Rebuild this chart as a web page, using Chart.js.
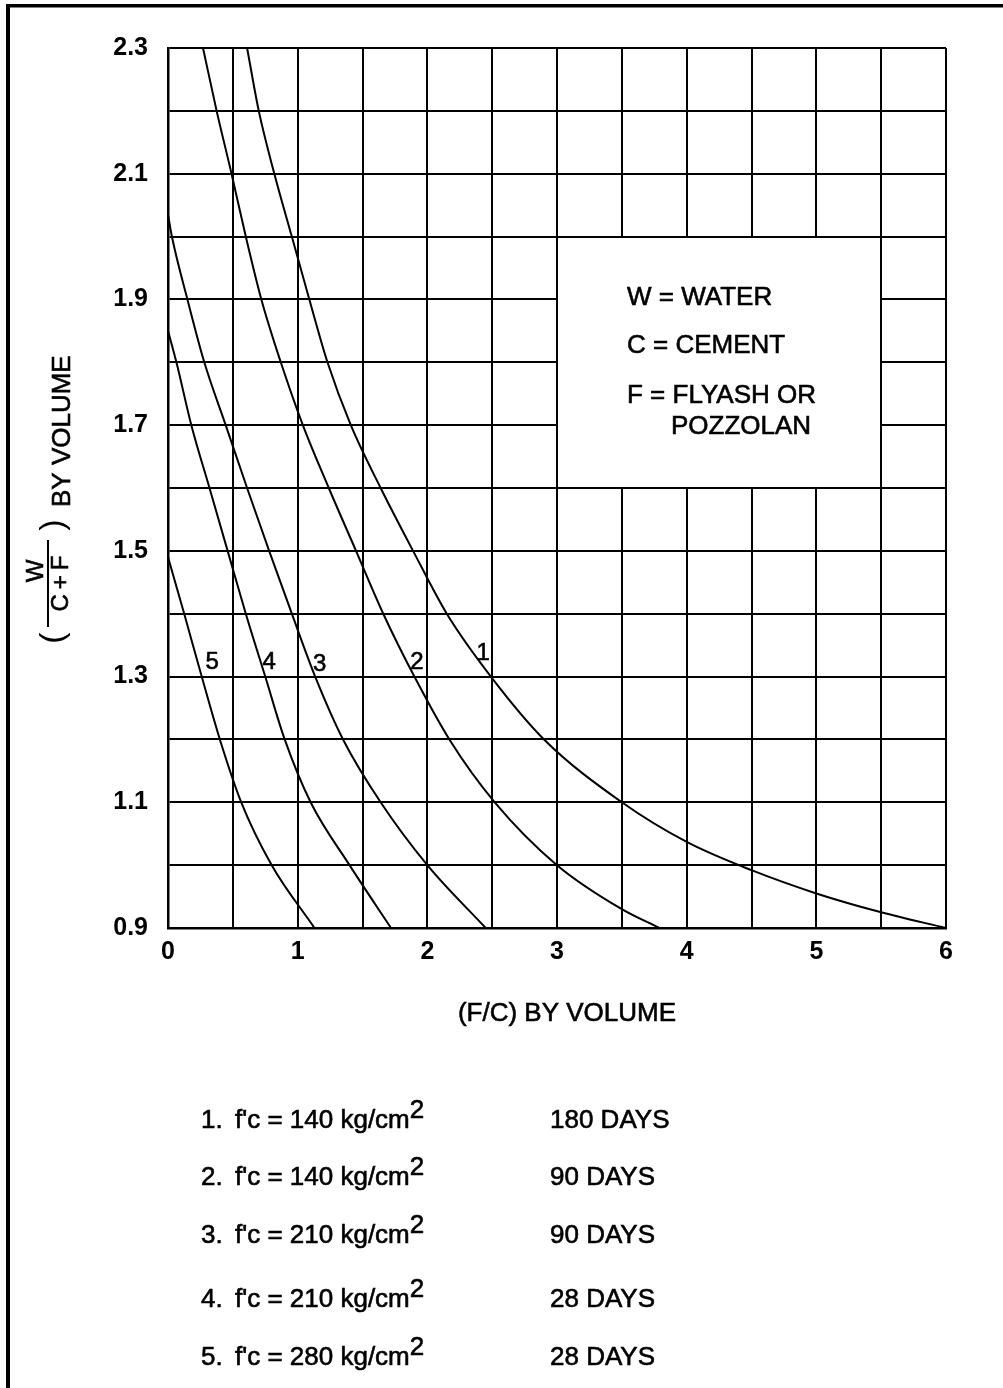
<!DOCTYPE html>
<html>
<head>
<meta charset="utf-8">
<script src="https://cdn.jsdelivr.net/npm/chart.js@4.4.0/dist/chart.umd.min.js"></script>
<style>
  html, body { margin: 0; padding: 0; background: #fff; }
  canvas { display: block; }
</style>
</head>
<body>
<canvas id="myChart" width="1003" height="1388"></canvas>
<script>
const xTickLabels = [0, 1, 2, 3, 4, 5, 6];
const yTickLabels = [0.9, 1.1, 1.3, 1.5, 1.7, 1.9, 2.1, 2.3];

// F/C (x) and W/(C+F) (y)
const curve1X = [0.61, 0.70, 0.82, 0.955, 1.09, 1.23, 1.41, 1.64, 1.89, 2.15, 2.49, 2.90, 3.5, 4.0, 4.5, 5.0, 5.5, 6.0];
const curve1Y = [2.3, 2.2, 2.1, 2.0, 1.9, 1.8, 1.7, 1.6, 1.5, 1.4, 1.3, 1.2, 1.100, 1.037, 0.992, 0.955, 0.925, 0.9];
const curve2X = [0.27, 0.375, 0.49, 0.60, 0.72, 0.87, 1.04, 1.24, 1.45, 1.66, 1.9, 2.17, 2.52, 3.0, 3.5, 3.79];
const curve2Y = [2.3, 2.2, 2.1, 2.0, 1.9, 1.8, 1.7, 1.6, 1.5, 1.4, 1.3, 1.2, 1.1, 1.0, 0.93, 0.9];
const curve3X = [0, 0.03, 0.15, 0.28, 0.445, 0.61, 0.78, 0.955, 1.135, 1.35, 1.64, 2.0, 2.45];
const curve3Y = [2.035, 2.0, 1.9, 1.8, 1.7, 1.6, 1.5, 1.4, 1.3, 1.2, 1.1, 1.0, 0.9];
const curve4X = [0, 0.065, 0.18, 0.32, 0.46, 0.60, 0.75, 0.90, 1.10, 1.40, 1.72];
const curve4Y = [1.85, 1.8, 1.7, 1.6, 1.5, 1.4, 1.3, 1.2, 1.1, 1.0, 0.9];
const curve5X = [0, 0.125, 0.26, 0.40, 0.565, 0.80, 1.13];
const curve5Y = [1.49, 1.4, 1.3, 1.2, 1.1, 1.0, 0.9];

const curveNames = ["1", "2", "3", "4", "5"];
const nameAtX = [2.43, 1.92, 1.17, 0.78, 0.34];
const nameAtY = [1.337, 1.322, 1.32, 1.322, 1.322];

const legendNums = ["1.", "2.", "3.", "4.", "5."];
const strengths = [140, 140, 210, 210, 280];
const ages = ["180 DAYS", "90 DAYS", "90 DAYS", "28 DAYS", "28 DAYS"];
const keyLines = ["W = WATER", "C = CEMENT", "F = FLYASH OR", "POZZOLAN"];

const FONT = "'Liberation Sans', Arial, Helvetica, sans-serif";

function toPoints(xs, ys) {
  return xs.map((v, i) => ({ x: v, y: ys[i] }));
}

function curve(xs, ys) {
  return {
    data: toPoints(xs, ys),
    showLine: true,
    borderColor: "#000",
    borderWidth: 2,
    pointRadius: 0,
    cubicInterpolationMode: "monotone",
    fill: false,
  };
}

// filled text with a hairline stroke so it reads as heavy as the scan
function heavyText(ctx, s, px, py) {
  ctx.fillText(s, px, py);
  ctx.strokeText(s, px, py);
}

function rotated(ctx, sx, sy, fn) {
  ctx.save();
  ctx.translate(sx, sy);
  ctx.rotate(-Math.PI / 2);
  fn();
  ctx.restore();
}

const decor = {
  id: "decor",
  beforeDraw(chart) {
    const c = chart.ctx;
    c.save();
    c.fillStyle = "#fff";
    c.fillRect(0, 0, chart.width, chart.height);
    c.restore();
  },
  beforeDatasetsDraw(chart) {
    // white key box punched out of the grid
    const { ctx, scales: { x, y } } = chart;
    const l = Math.round(x.getPixelForValue(3)) + 1;
    const r = Math.round(x.getPixelForValue(5.5)) - 1;
    const t = Math.round(y.getPixelForValue(2.0)) + 1;
    const b = Math.round(y.getPixelForValue(1.6)) - 1;
    ctx.save();
    ctx.fillStyle = "#fff";
    ctx.fillRect(l, t, r - l, b - t);
    ctx.restore();
  },
  afterDraw(chart) {
    const { ctx, scales: { x, y } } = chart;
    ctx.save();
    ctx.fillStyle = "#000";
    ctx.strokeStyle = "#000";

    // frame
    ctx.fillRect(6, 4, 4, chart.height - 4);
    ctx.fillRect(6, 4, chart.width - 6, 3.5);

    ctx.lineWidth = 0.6;

    // key text
    ctx.font = "26px " + FONT;
    ctx.textAlign = "left";
    ctx.textBaseline = "alphabetic";
    heavyText(ctx, keyLines[0], 627, 305);
    heavyText(ctx, keyLines[1], 627, 353);
    heavyText(ctx, keyLines[2], 627, 403);
    heavyText(ctx, keyLines[3], 671, 434);

    // curve numbers
    ctx.font = "24px " + FONT;
    ctx.textAlign = "center";
    ctx.textBaseline = "middle";
    curveNames.forEach((n, i) => {
      heavyText(ctx, n, x.getPixelForValue(nameAtX[i]), y.getPixelForValue(nameAtY[i]));
    });

    // x axis title
    ctx.font = "26px " + FONT;
    ctx.textAlign = "center";
    ctx.textBaseline = "alphabetic";
    heavyText(ctx, "(F/C) BY VOLUME", 567, 1021);

    // y axis title: ( W / C+F ) BY VOLUME
    rotated(ctx, 70, 507, () => {
      ctx.font = "26px " + FONT;
      ctx.textAlign = "left";
      heavyText(ctx, "BY VOLUME", 0, 0);
    });
    rotated(ctx, 63, 525, () => {
      ctx.font = "34px " + FONT;
      ctx.textAlign = "center";
      ctx.fillText(")", 0, 0);
    });
    rotated(ctx, 63, 638, () => {
      ctx.font = "34px " + FONT;
      ctx.textAlign = "center";
      ctx.fillText("(", 0, 0);
    });
    rotated(ctx, 43, 571, () => {
      ctx.font = "24px " + FONT;
      ctx.textAlign = "center";
      heavyText(ctx, "W", 0, 0);
    });
    rotated(ctx, 68, 583, () => {
      ctx.font = "24px " + FONT;
      ctx.textAlign = "center";
      ctx.letterSpacing = "5px";
      heavyText(ctx, "C+F", 2, 0);
      ctx.letterSpacing = "0px";
    });
    ctx.lineWidth = 2;
    ctx.beginPath();
    ctx.moveTo(48, 540);
    ctx.lineTo(48, 627);
    ctx.stroke();

    // legend rows
    ctx.lineWidth = 0.6;
    const rowY = [1128, 1185, 1243, 1307, 1365];
    ctx.font = "26px " + FONT;
    ctx.textAlign = "left";
    ctx.textBaseline = "alphabetic";
    legendNums.forEach((num, i) => {
      const by = rowY[i];
      heavyText(ctx, num, 201, by);
      const main = "f'c = " + strengths[i] + " kg/cm";
      heavyText(ctx, main, 235, by);
      const w = ctx.measureText(main).width;
      heavyText(ctx, "2", 235 + w, by - 10);
      heavyText(ctx, ages[i], 550, by);
    });

    ctx.restore();
  },
};

const ctx = document.getElementById("myChart").getContext("2d");
const myChart = new Chart(ctx, {
  type: "scatter",
  data: {
    datasets: [
      curve(curve1X, curve1Y),
      curve(curve2X, curve2Y),
      curve(curve3X, curve3Y),
      curve(curve4X, curve4Y),
      curve(curve5X, curve5Y),
    ],
  },
  options: {
    responsive: false,
    animation: false,
    events: [],
    layout: { padding: { left: 0, top: 48, right: 57, bottom: 0 } },
    plugins: {
      legend: { display: false },
      tooltip: { enabled: false },
    },
    scales: {
      x: {
        type: "linear",
        min: 0,
        max: 6,
        afterFit(s) { s.height = 460; },
        border: { display: true, color: "#000", width: 2.5 },
        grid: { color: "#000", lineWidth: 2, drawTicks: false, tickLength: 0 },
        ticks: {
          stepSize: 0.5,
          autoSkip: false,
          maxRotation: 0,
          padding: 9,
          color: "#000",
          font: { family: FONT, size: 25, weight: "bold" },
          callback: (v) => (xTickLabels.some((t) => Math.abs(t - v) < 1e-6) ? String(Math.round(v)) : ""),
        },
      },
      y: {
        type: "linear",
        min: 0.9,
        max: 2.3,
        afterFit(s) { s.width = 168; },
        border: { display: true, color: "#000", width: 2.5 },
        grid: { color: "#000", lineWidth: 2, drawTicks: false, tickLength: 0 },
        ticks: {
          stepSize: 0.1,
          autoSkip: false,
          padding: 20,
          color: "#000",
          font: { family: FONT, size: 25, weight: "bold" },
          callback: (v) => (yTickLabels.some((t) => Math.abs(t - v) < 1e-6) ? v.toFixed(1) : ""),
        },
      },
    },
  },
  plugins: [decor],
});
</script>
</body>
</html>
